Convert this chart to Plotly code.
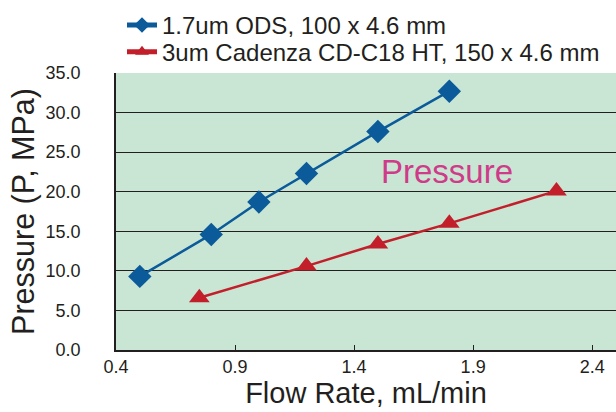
import plotly.graph_objects as go

flow_ods = [0.5, 0.8, 1.0, 1.2, 1.5, 1.8]
p_ods = [9.3, 14.6, 18.7, 22.3, 27.6, 32.7]
flow_cad = [0.75, 1.2, 1.5, 1.8, 2.25]
p_cad = [6.6, 10.6, 13.4, 16.0, 20.1]
name_ods = "1.7um ODS, 100 x 4.6 mm"
name_cad = "3um Cadenza CD-C18 HT, 150 x 4.6 mm"
x_ticks = [0.4, 0.9, 1.4, 1.9, 2.4]
y_ticks = [0, 5, 10, 15, 20, 25, 30, 35]

FONT = "Liberation Sans, Arial, sans-serif"
BLUE = "#0b5a9a"
RED = "#c21f2b"
TXT = "#231f20"

fig = go.Figure()
fig.add_trace(go.Scatter(x=flow_ods, y=p_ods, name=name_ods, mode="lines+markers",
                         line=dict(color=BLUE, width=2.5), legend="legend",
                         marker=dict(symbol="diamond", size=18, color=BLUE)))
fig.add_trace(go.Scatter(x=flow_cad, y=p_cad, name=name_cad, mode="lines+markers",
                         line=dict(color=RED, width=2.5), legend="legend2",
                         marker=dict(symbol="triangle-up", size=18, color=RED)))

fig.add_annotation(x=1.79, y=22.5, text="Pressure", showarrow=False,
                   font=dict(family=FONT, size=33, color="#cf3b88"))

leg_common = dict(xanchor="left", yanchor="middle", itemsizing="constant",
                  font=dict(family=FONT, size=24, color=TXT),
                  bgcolor="rgba(0,0,0,0)", itemwidth=30)

fig.update_layout(
    width=616, height=412,
    margin=dict(l=116, r=0, t=73, b=62, autoexpand=False),
    paper_bgcolor="white", plot_bgcolor="#c9e6d5",
    font=dict(family=FONT, color=TXT),
    showlegend=True,
    legend=dict(x=0.012, y=1.172, **leg_common),
    legend2=dict(x=0.012, y=1.0755, **leg_common),
    xaxis=dict(range=[0.4, 2.5], tickvals=x_ticks, ticktext=[f"{v:.1f}" for v in x_ticks],
               automargin=False,
               showgrid=False, zeroline=False, showline=True, linecolor=TXT, linewidth=1.5,
               ticks="inside", ticklen=5, tickcolor=TXT,
               tickfont=dict(size=18, color=TXT),
               title=dict(text="Flow Rate, mL/min", font=dict(size=29, color=TXT), standoff=2)),
    yaxis=dict(range=[0, 35], tickvals=y_ticks, ticktext=[f"{v:.1f}" for v in y_ticks],
               automargin=False,
               showgrid=True, gridcolor=TXT, gridwidth=1, zeroline=False,
               showline=True, linecolor=TXT, linewidth=1.5,
               ticks="outside", ticklen=30, tickcolor="rgba(0,0,0,0)",
               tickfont=dict(size=18, color=TXT),
               title=dict(text="Pressure (P, MPa)", font=dict(size=30.5, color=TXT), standoff=2)),
)

fig.write_html("out.html", config={"displayModeBar": False},
               post_script="document.body.style.margin='0';document.body.style.overflow='hidden';")
